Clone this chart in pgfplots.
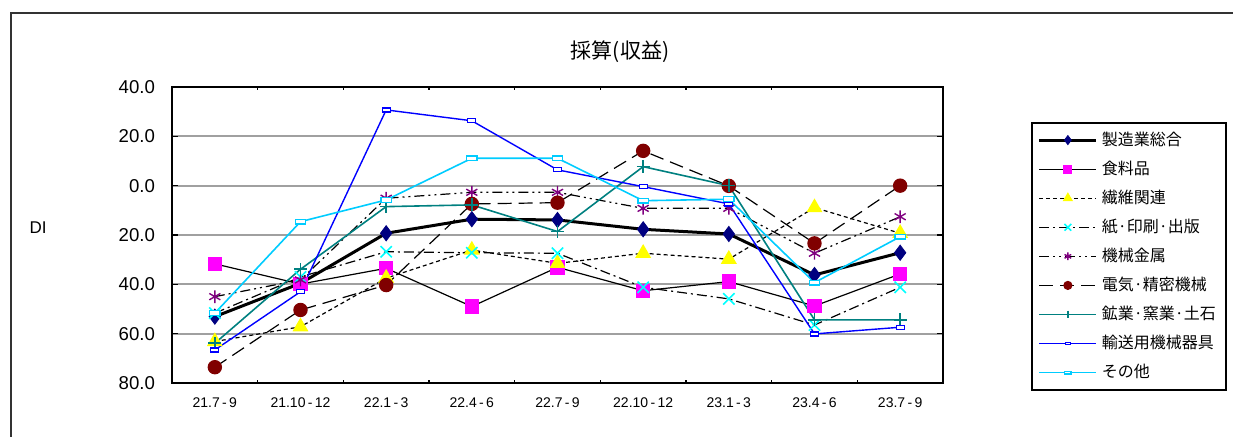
\documentclass[border=0pt]{standalone}
\usepackage{fontspec}
\setmainfont{Liberation Sans}
\newfontfamily\jp{Noto Sans CJK JP}
\usepackage{pgfplots}
\pgfplotsset{compat=1.18}
\definecolor{cnavy}{RGB}{0,0,128}
\definecolor{cmag}{RGB}{255,0,255}
\definecolor{cyel}{RGB}{255,255,0}
\definecolor{ccyan}{RGB}{0,255,255}
\definecolor{cpur}{RGB}{128,0,128}
\definecolor{cdred}{RGB}{128,0,0}
\definecolor{cteal}{RGB}{0,128,128}
\definecolor{cblue}{RGB}{0,0,255}
\definecolor{csky}{RGB}{0,204,255}
\definecolor{cgrid}{RGB}{160,160,160}
\begin{document}
\begin{tikzpicture}
\useasboundingbox (0,0) rectangle (616.5pt,218.5pt);
\draw[line width=1pt,black!80] (5.5pt,-2pt) -- (5.5pt,212pt) -- (620pt,212pt);
\node[font=\jp\fontsize{10.5}{12}\selectfont] at (310pt,192.5pt) {採算(収益)};
\node[font=\fontsize{8.5}{10}\selectfont] at (19pt,104.5pt) {DI};
\begin{axis}[
  at={(86pt,27pt)}, anchor=south west,
  scale only axis, width=385.5pt, height=148pt,
  xmin=-0.5, xmax=8.5, ymin=-80, ymax=40,
  axis line style={line width=1pt},
  xtick={0,...,8},
  xticklabels={21.7\,-\,9,21.10\,-\,12,22.1\,-\,3,22.4\,-\,6,22.7\,-\,9,22.10\,-\,12,23.1\,-\,3,23.4\,-\,6,23.7\,-\,9},
  major x tick style={draw=none},
  minor xtick={0.5,1.5,...,7.5},
  minor tick length=1.5pt,
  minor x tick style={line width=0.8pt,black},
  xticklabel style={font=\fontsize{7}{8}\selectfont, yshift=-4pt},
  ytick={-80,-60,...,40},
  major tick length=3pt,
  tick align=inside,
  major y tick style={line width=0.8pt,black},
  ymajorgrids,
  grid style={line width=0.9pt,cgrid},
  yticklabel={\pgfmathparse{abs(\tick)}\pgfmathprintnumber[fixed,fixed zerofill,precision=1]{\pgfmathresult}},
  yticklabel style={font=\fontsize{9.3}{10}\selectfont, xshift=-5pt},
  /pgf/number format/assume math mode=true,
  legend style={at={(1.1141,0.8818)}, anchor=north west, draw=black, line width=0.9pt,
    font=\jp\fontsize{8}{9}\selectfont, row sep=4.3pt, inner xsep=3pt, inner ysep=3.5pt,
    nodes={inner ysep=1pt}},
  legend cell align=left,
  legend image code/.code={\draw[#1, every mark/.append style={scale=0.6}, mark repeat=2, mark phase=2] plot coordinates {(0pt,0pt)(14.25pt,0pt)(28.5pt,0pt)};},
  clip=false,
]
% 製造業総合
\addplot[black, line width=1.5pt, mark=diamond*, mark size=3.8pt, mark options={solid,fill=cnavy,draw=cnavy,line width=0.4pt}]
 coordinates {(0,-53.1)(1,-39.6)(2,-19.3)(3,-13.6)(4,-13.9)(5,-17.7)(6,-19.6)(7,-36.2)(8,-27.2)};
\addlegendentry{製造業総合}
% 食料品
\addplot[black, line width=0.6pt, mark=square*, mark size=3.3pt, mark options={solid,fill=cmag,draw=cmag}]
 coordinates {(0,-31.7)(1,-39.9)(2,-33.5)(3,-49.0)(4,-33.1)(5,-42.6)(6,-38.9)(7,-48.8)(8,-35.8)};
\addlegendentry{食料品}
% 繊維関連
\addplot[black, line width=0.6pt, dash pattern=on 2pt off 1.5pt, mark=triangle*, mark size=4pt, mark options={solid,fill=cyel,draw=cyel}]
 coordinates {(0,-63.2)(1,-57.2)(2,-37.5)(3,-26.1)(4,-31.5)(5,-27.4)(6,-29.8)(7,-8.9)(8,-19.3)};
\addlegendentry{繊維関連}
% 紙・印刷・出版
\addplot[black, line width=0.6pt, dash pattern=on 5pt off 2pt on 1pt off 2pt, mark=x, mark size=4pt, mark options={solid,draw=ccyan,line width=0.8pt}]
 coordinates {(0,-51.7)(1,-37.0)(2,-26.8)(3,-27.2)(4,-27.4)(5,-41.2)(6,-45.9)(7,-56.5)(8,-41.2)};
\addlegendentry{紙·印刷·出版}
% 機械金属
\addplot[black, line width=0.6pt, dash pattern=on 5pt off 2pt on 1pt off 2pt on 1pt off 2pt, mark=asterisk, mark size=3.2pt, mark options={solid,draw=cpur,line width=0.7pt}]
 coordinates {(0,-45.0)(1,-38.2)(2,-5.1)(3,-2.7)(4,-2.7)(5,-9.2)(6,-9.2)(7,-27.4)(8,-12.6)};
\addlegendentry{機械金属}
% 電気・精密機械
\addplot[black, line width=0.6pt, dash pattern=on 7pt off 3.5pt, mark=*, mark size=3.3pt, mark options={solid,fill=cdred,draw=cdred}]
 coordinates {(0,-73.6)(1,-50.4)(2,-40.3)(3,-7.4)(4,-6.9)(5,14.1)(6,-0.1)(7,-23.4)(8,0.0)};
\addlegendentry{電気·精密機械}
% 鉱業・窯業・土石
\addplot[cteal, line width=0.8pt, mark=+, mark size=3.2pt, mark options={solid,draw=cteal,line width=0.8pt}]
 coordinates {(0,-63.9)(1,-33.9)(2,-8.5)(3,-7.8)(4,-18.6)(5,7.7)(6,0.0)(7,-54.4)(8,-54.4)};
\addlegendentry{鉱業·窯業·土石}
% 輸送用機械器具
\addplot[cblue, line width=0.7pt, mark=square*, mark size=2pt, mark options={solid,draw=cblue,fill=white,line width=0.6pt,yscale=0.5}]
 coordinates {(0,-66.6)(1,-43.0)(2,30.7)(3,26.3)(4,6.4)(5,-0.4)(6,-7.4)(7,-60.1)(8,-57.4)};
\addlegendentry{輸送用機械器具}
% その他
\addplot[csky, line width=0.8pt, mark=square*, mark size=2.6pt, mark options={solid,draw=csky,fill=white,line width=0.6pt,yscale=0.45}]
 coordinates {(0,-51.7)(1,-14.6)(2,-5.8)(3,11.1)(4,11.1)(5,-6.1)(6,-5.5)(7,-39.3)(8,-20.7)};
\addlegendentry{その他}
\end{axis}
\end{tikzpicture}
\end{document}
